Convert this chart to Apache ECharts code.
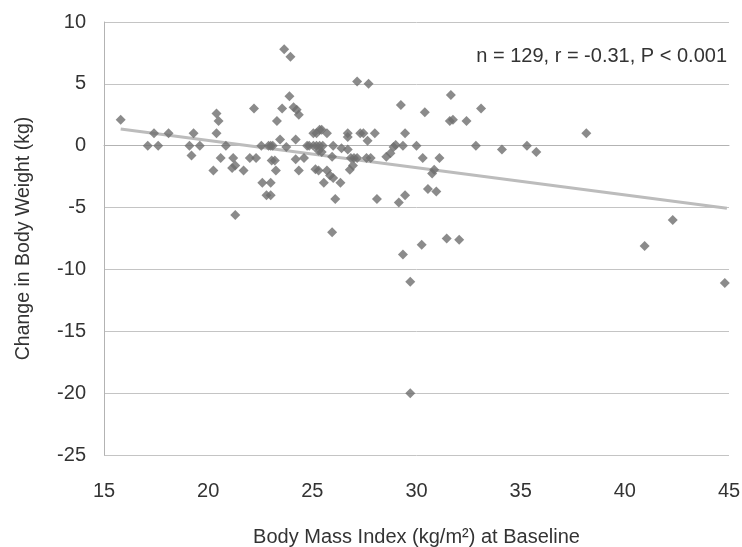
<!DOCTYPE html>
<html>
<head>
<meta charset="utf-8">
<script src="https://cdn.jsdelivr.net/npm/echarts@6/dist/echarts.min.js"></script>
<style>
html,body{margin:0;padding:0;background:#fff;}
#chart{width:742px;height:547px;}
</style>
</head>
<body>
<div id="chart"></div>
<script>
const bmi = [15.8,17.1,17.4,17.6,18.1,19.1,19.2,19.3,19.6,20.25,20.4,20.5,20.4,20.6,20.85,21.2,21.15,21.3,21.3,21.7,
22.0,22.2,22.3,22.55,22.6,22.8,22.9,23.0,23.0,23.0,23.1,23.05,23.2,23.25,23.3,23.45,23.55,23.65,23.75,23.9,
23.95,24.1,24.2,24.2,24.25,24.35,24.35,24.6,24.75,24.85,25.05,25.05,25.15,25.2,25.2,25.3,25.3,25.35,25.35,25.45,
25.45,25.5,25.55,25.7,25.7,25.85,25.95,25.95,26.0,26.0,26.1,26.35,26.4,26.7,26.7,26.7,26.8,26.85,26.95,27.0,
27.15,27.15,27.3,27.45,27.6,27.65,27.7,27.8,28.0,28.1,28.55,28.75,28.9,29.0,29.15,29.25,29.35,29.35,29.45,29.45,
29.7,29.7,30.0,30.25,30.3,30.4,30.55,30.75,30.85,30.95,31.1,31.45,31.6,31.65,31.75,32.05,32.4,32.85,33.1,34.1,
35.3,35.75,38.15,40.95,42.3,44.8];
const weightChange = [2.1,0,1.0,0,1.0,0,-0.8,1.0,0,-2.0,2.6,2.0,1.0,-1.0,0,-1.0,-1.8,-1.6,-5.6,-2.0,
-1.0,3.0,-1.0,0,-3.0,-4.0,0,0,-3.0,-4.0,0,-1.2,-1.2,-2.0,2.0,0.5,3.0,7.8,-0.1,4.0,
7.2,3.1,0.5,-1.1,2.9,2.5,-2.0,-1.0,0,0,0,1.0,-1.9,0,1.0,-0.4,-2.0,0,1.3,-0.5,
1.3,0,-3.0,1.0,-2.0,-2.4,-0.9,-7.0,-2.6,0,-4.3,-3.0,-0.2,1.0,0.7,-0.3,-1.95,-1.0,-1.6,-1.0,
-1.0,5.2,1.0,1.0,-1.0,0.4,5.0,-1.0,1.0,-4.3,-0.9,-0.6,-0.1,0.05,-4.6,3.3,0,-8.8,1.0,-4.0,
-11.0,-20.0,0,-8.0,-1.0,2.7,-3.5,-2.25,-1.95,-3.7,-1.0,-7.5,2.0,4.1,2.1,-7.6,2.0,0,3.0,-0.3,
0,-0.5,1.0,-8.1,-6.0,-11.1];
const trendX = [15.8, 44.9];
const trendY = [1.35, -5.05];
const xTicks = {min: 15, max: 45, interval: 5};
const yTicks = {min: -25, max: 10, interval: 5};
const annotation = 'n = 129, r = -0.31, P < 0.001';

const points = bmi.map((x, i) => [x, weightChange[i]]);
const trend = trendX.map((x, i) => [x, trendY[i]]);
const FONT = '"Liberation Sans", Arial, sans-serif';
const chart = echarts.init(document.getElementById('chart'), null, {renderer: 'canvas'});
chart.setOption({
  animation: false,
  backgroundColor: '#fff',
  textStyle: {fontFamily: FONT},
  grid: {left: 104, right: 13, top: 22, bottom: 92, containLabel: false, outerBoundsMode: 'none'},
  xAxis: {
    type: 'value', min: xTicks.min, max: xTicks.max, interval: xTicks.interval,
    name: 'Body Mass Index (kg/m²) at Baseline', nameLocation: 'middle', nameGap: 72,
    nameTextStyle: {fontSize: 20, color: '#333', fontFamily: FONT},
    axisLine: {show: true, lineStyle: {color: '#b3b3b3', width: 1}},
    axisTick: {show: false},
    axisLabel: {fontSize: 20, color: '#333', margin: 26, fontFamily: FONT},
    splitLine: {show: false}
  },
  yAxis: {
    type: 'value', min: yTicks.min, max: yTicks.max, interval: yTicks.interval,
    name: 'Change in Body Weight (kg)', nameLocation: 'middle', nameGap: 70, nameRotate: 90,
    nameTextStyle: {fontSize: 19.5, color: '#333', fontFamily: FONT},
    axisLine: {show: true, onZero: false, lineStyle: {color: '#b3b3b3', width: 1}},
    axisTick: {show: false},
    axisLabel: {fontSize: 20, color: '#333', margin: 18, fontFamily: FONT},
    splitLine: {show: true, lineStyle: {color: '#c4c4c4', width: 1}}
  },
  graphic: [{
    type: 'text', right: 15, top: 46,
    style: {text: annotation, fontSize: 20, fill: '#333', fontFamily: FONT}
  }],
  series: [
    {
      type: 'line', data: trend, symbol: 'none', silent: true,
      lineStyle: {color: '#bcbcbc', width: 3}, z: 1
    },
    {
      type: 'scatter', data: points, symbol: 'diamond', symbolSize: [10, 10],
      itemStyle: {color: '#6e6e6e'}, z: 2
    }
  ]
});
</script>
</body>
</html>
